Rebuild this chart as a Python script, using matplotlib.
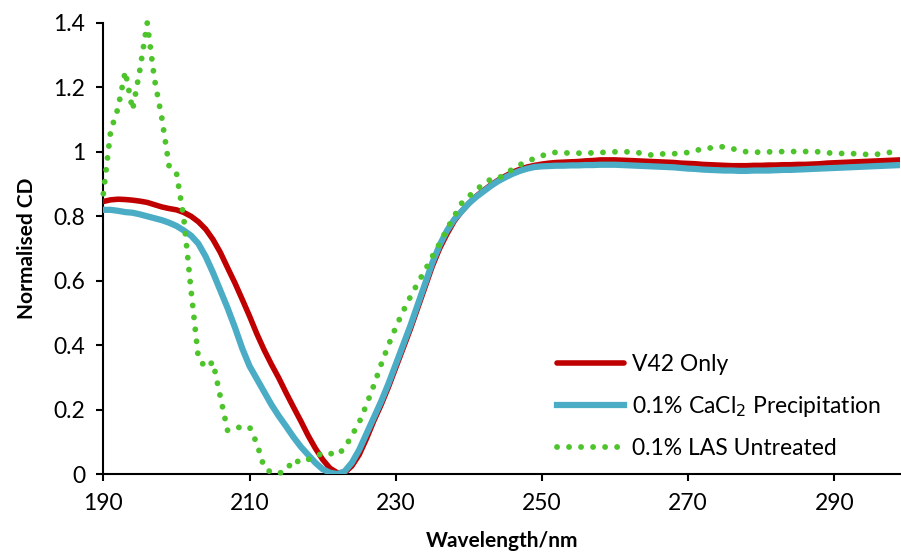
import matplotlib
matplotlib.use("Agg")
import matplotlib.pyplot as plt
import numpy as np

# wavelength categories, 1 nm steps
wavelength = np.arange(190, 300)

v42_only = [
    0.846, 0.851, 0.853, 0.852, 0.850, 0.847, 0.843, 0.836, 0.829, 0.824,
    0.820, 0.812, 0.800, 0.783, 0.760, 0.728, 0.688, 0.640, 0.593, 0.542,
    0.490, 0.435, 0.385, 0.340, 0.298, 0.252, 0.208, 0.165, 0.120, 0.080,
    0.045, 0.018, 0.004, 0.004, 0.025, 0.060, 0.110, 0.165, 0.215, 0.270,
    0.330, 0.390, 0.450, 0.515, 0.580, 0.645, 0.700, 0.745, 0.785, 0.815,
    0.840, 0.862, 0.880, 0.897, 0.912, 0.925, 0.937, 0.946, 0.953, 0.958,
    0.962, 0.965, 0.967, 0.968, 0.969, 0.970, 0.972, 0.973, 0.975, 0.975,
    0.975, 0.974, 0.973, 0.972, 0.971, 0.970, 0.969, 0.968, 0.967, 0.965,
    0.964, 0.963, 0.961, 0.960, 0.959, 0.958, 0.957, 0.957, 0.957, 0.958,
    0.958, 0.959, 0.959, 0.960, 0.960, 0.961, 0.961, 0.962, 0.963, 0.965,
    0.966, 0.967, 0.968, 0.969, 0.970, 0.971, 0.972, 0.973, 0.974, 0.975,
]

cacl2_precip = [
    0.820, 0.820, 0.817, 0.813, 0.811, 0.806, 0.800, 0.794, 0.788, 0.780,
    0.770, 0.756, 0.740, 0.715, 0.675, 0.625, 0.570, 0.515, 0.455, 0.390,
    0.335, 0.295, 0.255, 0.215, 0.180, 0.148, 0.115, 0.085, 0.060, 0.035,
    0.015, 0.004, 0.000, 0.008, 0.035, 0.075, 0.125, 0.175, 0.225, 0.280,
    0.340, 0.400, 0.460, 0.525, 0.590, 0.655, 0.710, 0.755, 0.790, 0.815,
    0.840, 0.860, 0.877, 0.894, 0.909, 0.921, 0.932, 0.941, 0.948, 0.953,
    0.955, 0.956, 0.957, 0.957, 0.958, 0.958, 0.959, 0.959, 0.960, 0.960,
    0.960, 0.959, 0.958, 0.957, 0.956, 0.955, 0.954, 0.953, 0.952, 0.950,
    0.948, 0.947, 0.945, 0.944, 0.943, 0.942, 0.942, 0.941, 0.941, 0.942,
    0.942, 0.942, 0.943, 0.944, 0.944, 0.945, 0.946, 0.947, 0.948, 0.949,
    0.950, 0.951, 0.952, 0.953, 0.954, 0.955, 0.956, 0.957, 0.958, 0.959,
]

las_untreated = [
    0.870, 1.065, 1.135, 1.250, 1.130, 1.255, 1.400, 1.225, 1.105, 0.955,
    0.935, 0.795, 0.570, 0.360, 0.330, 0.348, 0.240, 0.135, 0.143, 0.146,
    0.146, 0.095, 0.020, 0.004, 0.002, 0.010, 0.045, 0.035, 0.045, 0.052,
    0.066, 0.064, 0.059, 0.080, 0.120, 0.160, 0.215, 0.275, 0.340, 0.400,
    0.455, 0.505, 0.550, 0.592, 0.632, 0.675, 0.715, 0.760, 0.800, 0.840,
    0.862, 0.882, 0.900, 0.915, 0.918, 0.930, 0.947, 0.960, 0.970, 0.980,
    0.988, 0.995, 0.999, 0.997, 0.996, 0.996, 0.996, 0.997, 0.998, 0.999,
    1.000, 1.000, 1.000, 0.998, 0.994, 0.990, 0.993, 0.994, 0.994, 0.996,
    0.998, 1.004, 1.009, 1.012, 1.015, 1.016, 1.010, 1.005, 1.000, 0.999,
    0.999, 1.000, 1.000, 1.001, 1.001, 1.001, 1.001, 1.001, 1.000, 0.997,
    0.996, 0.995, 0.995, 0.994, 0.993, 0.990, 0.993, 0.996, 1.000, 1.002,
]

x_ticks = [190, 210, 230, 250, 270, 290]
y_ticks = [0, 0.2, 0.4, 0.6, 0.8, 1, 1.2, 1.4]
y_tick_labels = ["0", "0.2", "0.4", "0.6", "0.8", "1", "1.2", "1.4"]

plt.rcParams["font.family"] = ["Lato", "DejaVu Sans"]

fig = plt.figure(figsize=(9.01, 5.54), dpi=100)
ax = fig.add_axes([0.1147, 0.1444, 0.8843, 0.8141])

ax.plot(wavelength, v42_only, color="#C00000", linewidth=4.0,
        solid_joinstyle="round", solid_capstyle="round", label="V42 Only", zorder=3)
ax.plot(wavelength, cacl2_precip, color="#4BACC6", linewidth=4.5,
        solid_joinstyle="round", label="0.1% CaCl$_2$ Precipitation", zorder=4)
ax.plot(wavelength, las_untreated, color="#4DC42B", linewidth=4.2,
        linestyle=(0, (0.01, 2.05)), dash_capstyle="round",
        label="0.1% LAS Untreated", zorder=5, clip_on=False)

ax.set_xlim(190, 299)
ax.set_ylim(0, 1.4)
ax.set_xticks(x_ticks)
ax.set_yticks(y_ticks)
ax.set_yticklabels(y_tick_labels)
ax.tick_params(axis="both", direction="out", length=5, width=1.5,
               labelsize=16.5, color="black")
ax.tick_params(axis="x", pad=9)
ax.tick_params(axis="y", pad=8)

for side in ["top", "right"]:
    ax.spines[side].set_visible(False)
for side in ["left", "bottom"]:
    ax.spines[side].set_linewidth(1.5)
    ax.spines[side].set_color("black")

ax.set_xlabel("Wavelength/nm", fontsize=15, fontweight="bold", labelpad=12)
ax.set_ylabel("Normalised CD", fontsize=15, fontweight="bold", labelpad=12)

ax.legend(loc="upper left", bbox_to_anchor=(546 / 901, 1 - 343 / 554),
          bbox_transform=fig.transFigure, frameon=False, fontsize=16.5,
          handlelength=2.9, handletextpad=0.35, labelspacing=0.82, borderpad=0)

fig.savefig("out.png", dpi=100)
plt.close(fig)
